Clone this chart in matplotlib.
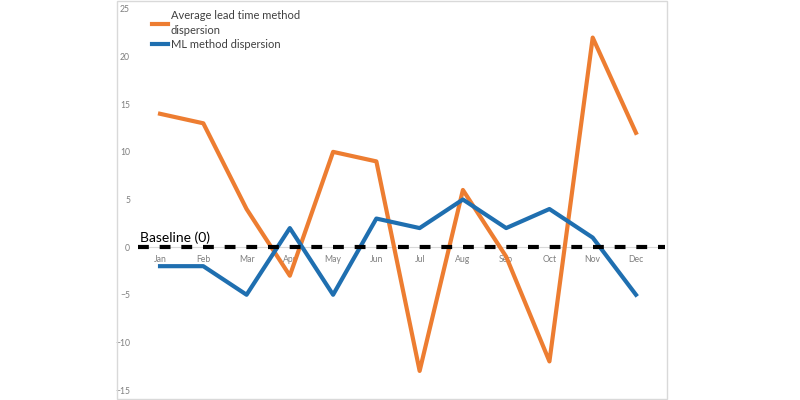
import matplotlib
matplotlib.use("Agg")
import matplotlib.pyplot as plt
from matplotlib.patches import Rectangle

months = ["Jan", "Feb", "Mar", "Apr", "May", "Jun", "Jul", "Aug", "Sep", "Oct", "Nov", "Dec"]
avg_lead_time = [14, 13, 4, -3, 10, 9, -13, 6, -1, -12, 22, 12]
ml_method = [-2, -2, -5, 2, -5, 3, 2, 5, 2, 4, 1, -5]
yticks = [-15, -10, -5, 0, 5, 10, 15, 20, 25]

plt.rcParams['font.family'] = ['Lato', 'DejaVu Sans']

fig = plt.figure(figsize=(8, 4), dpi=100)
fig.patches.append(Rectangle((117/800, 1/400), 550/800, 398/400, transform=fig.transFigure,
                             fill=False, edgecolor="#D9D9D9", linewidth=1))
ax = fig.add_axes([138.4/800, 1 - 390/400, (657.6 - 138.4)/800, (390 - 9)/400])
x = list(range(len(months)))

ax.axhline(0, color="#D9D9D9", linewidth=0.8, zorder=1)
ax.plot(x, avg_lead_time, color="#ED7D31", linewidth=3, label="Average lead time method\ndispersion", zorder=3)
ax.plot(x, ml_method, color="#1F6FB0", linewidth=3, label="ML method dispersion", zorder=3)
ax.plot([-0.5, 11.68], [0, 0], color="black", linewidth=3, linestyle=(0, (2.6, 2.6)),
        clip_on=False, zorder=4)
ax.text(-0.47, 0.3, "Baseline (0)", fontsize=10, color="black", ha="left", va="bottom")

ax.set_xlim(-0.5, 11.5)
ax.set_ylim(-15, 25)
ax.set_yticks(yticks)
ax.set_xticks(x)
ax.set_xticklabels(months)
for s in ax.spines.values():
    s.set_visible(False)
ax.tick_params(axis="both", length=0, labelsize=6.2, labelcolor="#7F7F7F")
ax.tick_params(axis="y", pad=6)
ax.xaxis.set_ticks_position("bottom")
ax.spines["bottom"].set_position(("data", 0))
ax.tick_params(axis="x", pad=6)

leg = ax.legend(loc="upper left", bbox_to_anchor=(152/800, 1 - 10/400), bbox_transform=fig.transFigure,
                frameon=False, fontsize=8, handlelength=1.4, handletextpad=0.3, labelspacing=0.25,
                borderaxespad=0, borderpad=0)
for t in leg.get_texts():
    t.set_color("#404040")
    t.set_linespacing(1.45)

fig.savefig("out.png", dpi=100)
